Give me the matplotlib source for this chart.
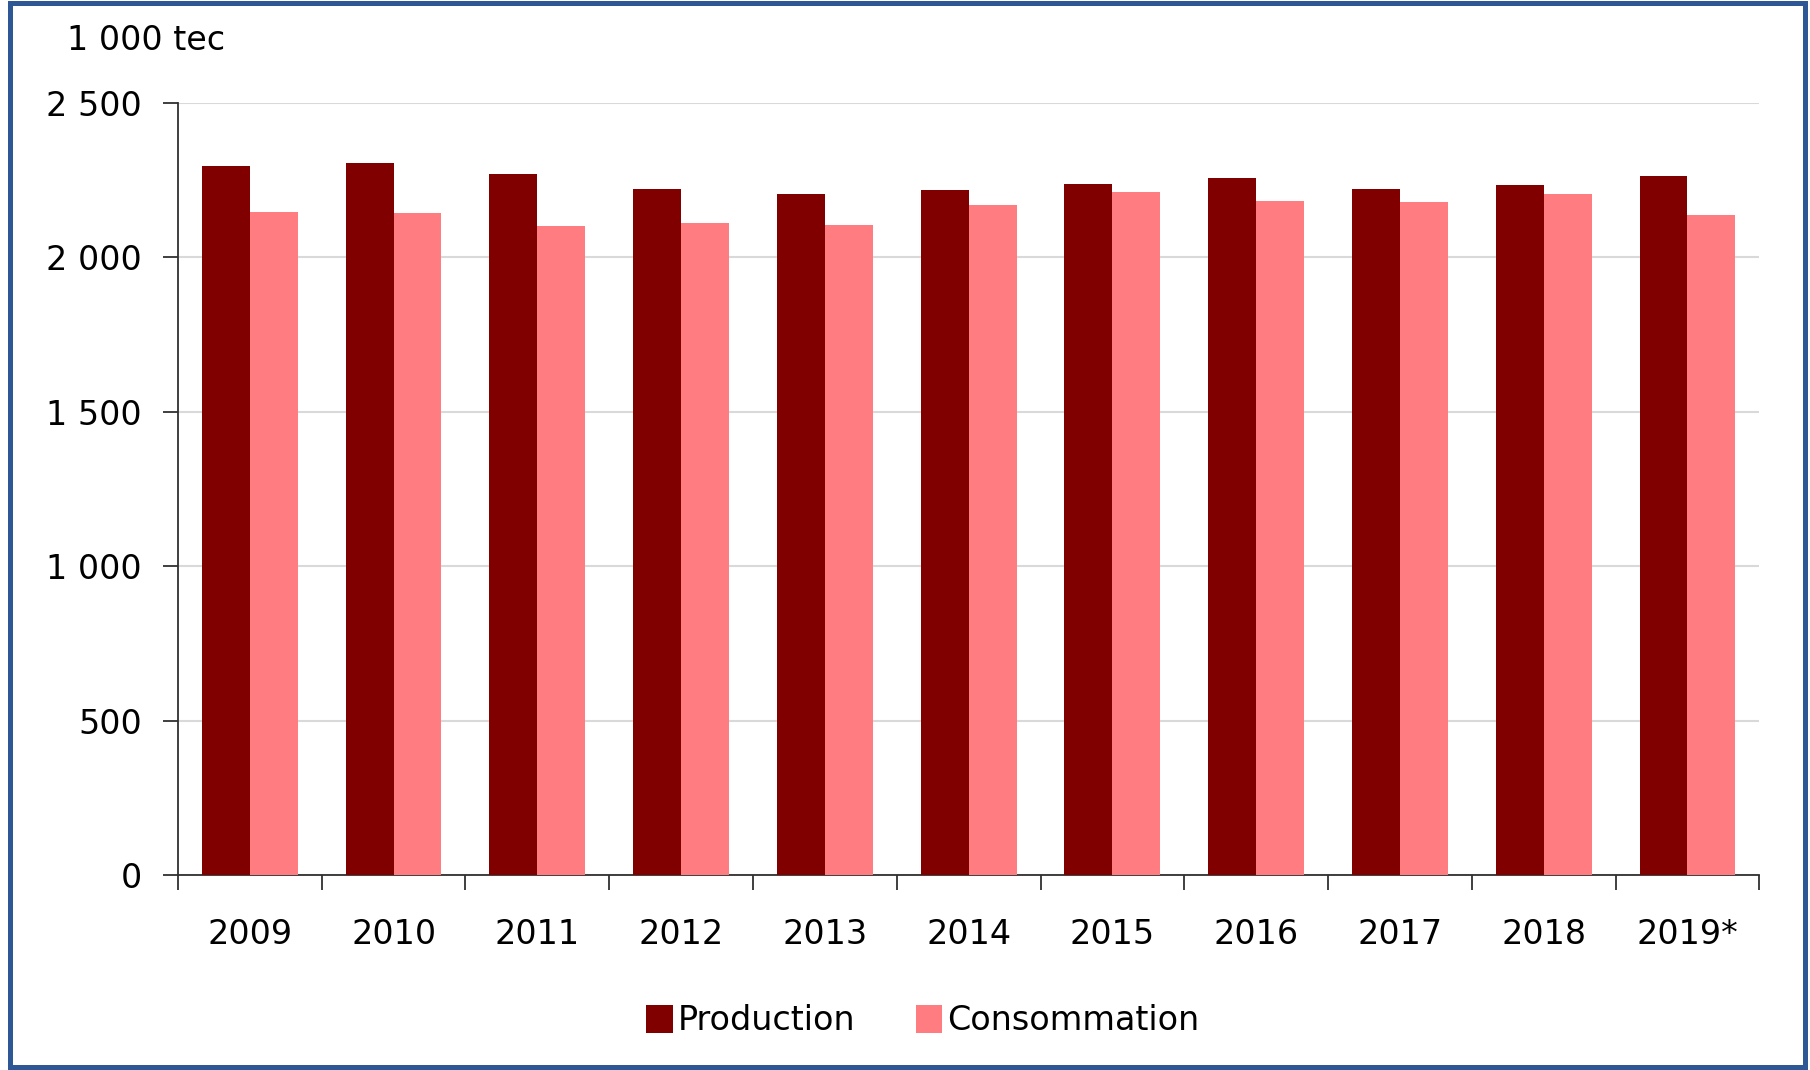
import matplotlib
matplotlib.use("Agg")
import matplotlib.pyplot as plt
from matplotlib.patches import Rectangle
import numpy as np

# Données (1 000 tec)
annees = ["2009", "2010", "2011", "2012", "2013", "2014", "2015", "2016", "2017", "2018", "2019*"]
production = [2294, 2305, 2269, 2222, 2206, 2216, 2237, 2257, 2222, 2235, 2262]
consommation = [2145, 2143, 2102, 2111, 2104, 2168, 2210, 2183, 2180, 2205, 2136]

couleur_prod = "#800000"
couleur_cons = "#FF7C80"

plt.rcParams['font.family'] = ['DejaVu Sans']

fig = plt.figure(figsize=(18.1, 10.7), dpi=100)
ax = fig.add_axes([0.0983, 0.1822, 0.8737, 0.7218])

x = np.arange(len(annees))
largeur = 1 / 3
ax.bar(x - largeur / 2, production, width=largeur, color=couleur_prod, label="Production", zorder=3)
ax.bar(x + largeur / 2, consommation, width=largeur, color=couleur_cons, label="Consommation", zorder=3)

ax.set_xlim(-0.5, len(annees) - 0.5)
ax.set_ylim(0, 2500)
ax.set_yticks([0, 500, 1000, 1500, 2000, 2500])
ax.set_yticklabels(["0", "500", "1 000", "1 500", "2 000", "2 500"], fontsize=24)

# Etiquettes des années au centre, petits traits aux séparations
ax.set_xticks(x)
ax.set_xticklabels(annees, fontsize=24)
ax.set_xticks(np.arange(-0.5, len(annees)), minor=True)
ax.tick_params(axis='x', which='major', length=0, pad=31)
ax.tick_params(axis='x', which='minor', length=11, width=1.3, direction='out', color='#303030')
ax.tick_params(axis='y', length=11, width=1.3, pad=15, color='#303030')

ax.grid(axis='y', color='#d9d9d9', linewidth=1.5, zorder=0)
ax.spines['top'].set_visible(False)
ax.spines['right'].set_visible(False)
ax.spines['left'].set_color('#303030')
ax.spines['bottom'].set_color('#303030')
ax.spines['left'].set_linewidth(1.3)
ax.spines['bottom'].set_linewidth(1.3)

fig.text(0.037, 0.9626, "1 000 tec", fontsize=24, ha='left', va='center')

fig.legend(loc='center', bbox_to_anchor=(0.51, 0.046), ncol=2, frameon=False,
           fontsize=24, handlelength=0.8, handleheight=0.9, handletextpad=0.15,
           columnspacing=1.8)

# Cadre bleu autour du graphique
fig.patches.append(Rectangle((0.0055, 0.003), 0.9915, 0.994, transform=fig.transFigure,
                             fill=False, edgecolor='#2E5796', linewidth=3.6))

fig.savefig("out.png", dpi=100)
